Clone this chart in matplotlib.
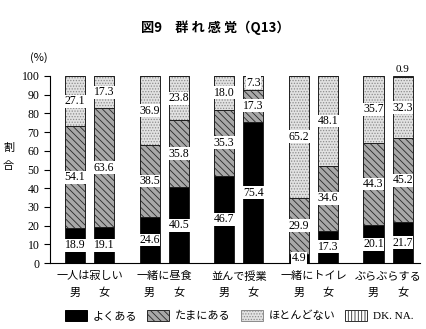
import numpy as np
import matplotlib
matplotlib.use('Agg')
import matplotlib.pyplot as plt
from matplotlib.patches import Patch

plt.rcParams['font.family'] = ['Noto Sans CJK JP', 'DejaVu Sans']
plt.rcParams['hatch.linewidth'] = 0.6

# Datos (%) - ordem: 男, 女 para cada grupo
grupos = ['一人は寂しい', '一緒に昼食', '並んで授業', '一緒にトイレ', 'ぶらぶらする']
sexos = ['男', '女']
yoku = [18.9, 19.1, 24.6, 40.5, 46.7, 75.4, 4.9, 17.3, 20.1, 21.7]
tama = [54.1, 63.6, 38.5, 35.8, 35.3, 17.3, 29.9, 34.6, 44.3, 45.2]
hoton = [27.1, 17.3, 36.9, 23.8, 18.0, 7.3, 65.2, 48.1, 35.7, 32.3]
dkna = [0, 0, 0, 0, 0, 0, 0, 0, 0, 0.9]
categorias = ['よくある', 'たまにある', 'ほとんどない', 'DK. NA.']

estilos = [
    dict(facecolor='black', hatch=None, edgecolor='black'),
    dict(facecolor='#a8a8a8', hatch='\\\\\\\\\\', edgecolor='#282828'),
    dict(facecolor='#e2e2e2', hatch='......', edgecolor='#8c8c8c'),
    dict(facecolor='white', hatch='|||||', edgecolor='#303030'),
]

fig = plt.figure(figsize=(4.27, 3.29), dpi=100)
ax = fig.add_axes([0.117, 0.2006, 0.867, 0.5684])

centros = np.arange(len(grupos))
desloc = 0.195
largura = 0.27
xs = np.ravel([[c - desloc, c + desloc] for c in centros])

serie = [yoku, tama, hoton, dkna]
base = np.zeros(len(xs))
for vals, est in zip(serie, estilos):
    vals = np.array(vals)
    ax.bar(xs, vals, largura, bottom=base, facecolor=est['facecolor'],
           hatch=est['hatch'], edgecolor=est['edgecolor'], linewidth=0)
    ax.bar(xs, vals, largura, bottom=base, fill=False,
           edgecolor='#202020', linewidth=0.7)
    for x, b, v in zip(xs, base, vals):
        if v == 0:
            continue
        if v < 2:
            # valor pequeno: escreve acima da barra
            ax.text(x, b + v + 3.5, f'{v:.1f}', ha='center', va='center',
                    fontsize=8, family='Liberation Serif')
        else:
            ax.text(x, b + v / 2, f'{v:.1f}', ha='center', va='center',
                    fontsize=8.5, family='Liberation Serif',
                    bbox=dict(facecolor='white', edgecolor='none', pad=0.3))
    base = base + vals

ax.set_xlim(-0.53, 4.43)
ax.set_ylim(0, 100)
ax.set_yticks(range(0, 101, 10))
ax.tick_params(axis='y', direction='out', length=4, labelsize=8.5)
for lab in ax.get_yticklabels():
    lab.set_family('Liberation Serif')
ax.set_xticks([])
for s in ['top', 'right']:
    ax.spines[s].set_visible(False)
ax.spines['left'].set_linewidth(0.8)
ax.spines['bottom'].set_linewidth(0.8)

trans = ax.get_xaxis_transform()
for c, g in zip(centros, grupos):
    ax.text(c, -0.072, g, ha='center', va='center', fontsize=8, transform=trans)
for i, x in enumerate(xs):
    ax.text(x, -0.16, sexos[i % 2], ha='center', va='center', fontsize=8,
            transform=trans)

fig.text(0.505, 0.915, '図9　群 れ 感 覚（Q13）', ha='center', va='center',
         fontsize=9.5, fontweight='bold')
fig.text(0.07, 0.826, '(%)', ha='left', va='center', fontsize=8)
fig.text(0.02, 0.55, '割', ha='center', va='center', fontsize=8)
fig.text(0.02, 0.495, '合', ha='center', va='center', fontsize=8)

handles = [Patch(facecolor=e['facecolor'], hatch=e['hatch'], edgecolor=e['edgecolor'],
                 linewidth=0.7) for e in estilos]
leg = fig.legend(handles, categorias, loc='center', bbox_to_anchor=(0.56, 0.04),
                 ncol=4, frameon=False, fontsize=8, handlelength=2.0,
                 handleheight=1.1, columnspacing=0.9, handletextpad=0.5)
leg.get_texts()[3].set_family('Liberation Serif')

plt.savefig('out.png', dpi=100)
